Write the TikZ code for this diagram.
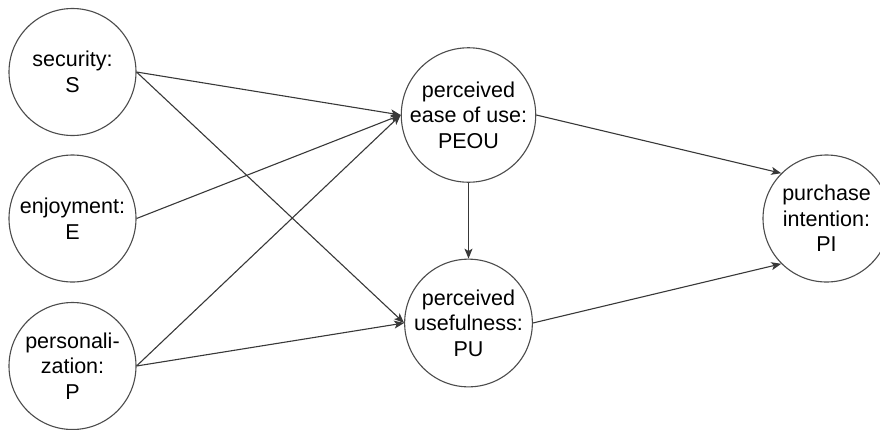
\documentclass[tikz,border=0pt]{standalone}
\usepackage{fontspec}
\setmainfont{Liberation Sans}
\usetikzlibrary{arrows.meta}

\begin{document}
\begin{tikzpicture}[x=1pt,y=-1pt,
  construct/.style={circle, draw=black!70, line width=1.1pt, fill=white,
    minimum size=127pt, inner sep=0pt, align=center,
    font=\fontsize{21.5}{25.5}\selectfont},
  path/.style={draw=black!78, line width=1.1pt,
    -{Stealth[length=10pt,width=8pt,inset=2.5pt]}}
]
  \useasboundingbox (0,0) rectangle (880,429);
  \clip (0,0) rectangle (880,429);

  % external factors
  \node[construct] (S) at (72.5,72) {security:\\S};
  \node[construct] (E) at (72.5,218.5) {enjoyment:\\E};
  \node[construct] (P) at (72.5,366) {personali-\\zation:\\P};

  % TAM constructs
  \node[construct] (PEOU) at (468.5,115) {perceived\\ease of use:\\PEOU};
  \node[construct] (PU)   at (468.5,323) {perceived\\usefulness:\\PU};
  \node[construct] (PI)   at (826.5,218.5) {purchase\\intention:\\PI};

  % hypothesised paths
  \draw[path] (S.east) -- (PEOU.west);
  \draw[path] (S.east) -- (PU.west);
  \draw[path] (E.east) -- (PEOU.west);
  \draw[path] (P.east) -- (PEOU.west);
  \draw[path] (P.east) -- (PU.west);
  \draw[path] (PEOU.south) -- (PU.north);
  \draw[path] (PEOU.east) -- (PI.north west);
  \draw[path] (PU.east) -- (PI.south west);
\end{tikzpicture}
\end{document}
